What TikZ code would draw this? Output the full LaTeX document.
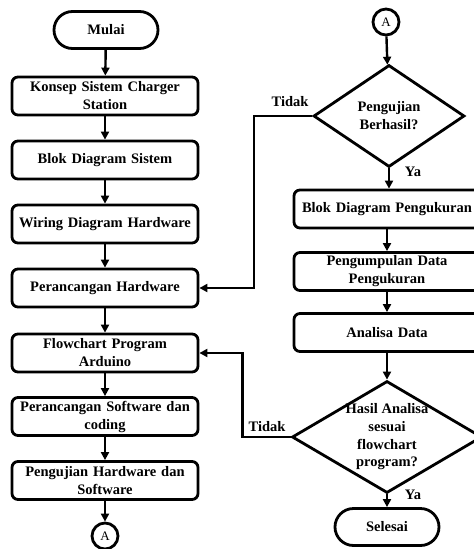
\documentclass[tikz,border=0pt]{standalone}
\usepackage{fontspec}
\setmainfont{Liberation Serif}
\usetikzlibrary{shapes.geometric,shapes.misc,arrows.meta}
\begin{document}
\begin{tikzpicture}[x=1pt,y=-1pt,
  every node/.style={font=\fontsize{14.5}{18}\selectfont\bfseries},
  procbox/.style={draw, line width=2.8pt, rectangle, rounded corners=6pt, minimum width=186pt, minimum height=38pt, text width=182pt, align=center, inner sep=0pt},
  termbox/.style={draw, line width=2.8pt, rounded rectangle, minimum width=104pt, minimum height=37pt, inner sep=0pt},
  conn/.style={draw, line width=2.8pt, shape=circle, minimum size=26pt, inner sep=0pt, font=\fontsize{13}{15}\selectfont},
  dia/.style={draw, line width=2.8pt, diamond, inner sep=0pt},
  dtext/.style={align=center, inner sep=0pt},
  lbl/.style={inner sep=0pt},
  arr/.style={line width=2.4pt, -{Triangle[length=8pt,width=8pt]}}
]
\path[use as bounding box] (0,0) rectangle (474,549);
\clip (0,0) rectangle (474,549);
% left column
\node[termbox] (mulai) at (106,30) {Mulai};
\node[procbox] (b1) at (105,96) {Konsep Sistem Charger\\Station};
\node[procbox] (b2) at (105,160) {Blok Diagram Sistem};
\node[procbox] (b3) at (105,224) {Wiring Diagram Hardware};
\node[procbox] (b4) at (105,288) {Perancangan Hardware};
\node[procbox] (b5) at (105,353) {Flowchart Program\\Arduino};
\node[procbox] (b6) at (105,416.5) {Perancangan Software dan\\coding};
\node[procbox] (b7) at (105,480.5) {Pengujian Hardware dan\\Software};
\node[conn] (a1) at (105,536) {A};
% right column
\node[conn] (a2) at (386,22) {A};
\node[dia, minimum width=151pt, minimum height=102pt] (d1) at (389,116) {};
\node[dtext] (d1t) at (d1.center) {Pengujian\\Berhasil?};
\node[procbox] (r1) at (387,209) {Blok Diagram Pengukuran};
\node[procbox] (r2) at (387,271.5) {Pengumpulan Data\\Pengukuran};
\node[procbox] (r3) at (387,332.5) {Analisa Data};
\node[dia, minimum width=190pt, minimum height=112pt] (d2) at (387,437) {};
\node[dtext, font=\fontsize{14.5}{17.7}\selectfont\bfseries] (d2t) at (d2.center) {Hasil Analisa\\sesuai\\flowchart\\program?};
\node[termbox] (selesai) at (387,527) {Selesai};
% labels
\node[lbl] (t1) at (290,102) {Tidak};
\node[lbl] (y1) at (413,172) {Ya};
\node[lbl] (t2) at (267,427) {Tidak};
\node[lbl] (y2) at (413,495) {Ya};
% connectors
\draw[arr] (mulai) -- (b1);
\draw[arr] (b1) -- (b2);
\draw[arr] (b2) -- (b3);
\draw[arr] (b3) -- (b4);
\draw[arr] (b4) -- (b5);
\draw[arr] (b5) -- (b6);
\draw[arr] (b6) -- (b7);
\draw[arr] (b7) -- (a1);
\draw[arr] (a2) -- (d1);
\draw[arr] (d1.south) -- (r1.north -| d1.south);
\draw[arr] (r1) -- (r2);
\draw[arr] (r2) -- (r3);
\draw[arr] (r3) -- (d2);
\draw[arr] (d2) -- (selesai);
\draw[arr] (d1.west) -- ++(-58,0) |- (b4.east);
\draw[arr] (d2.west) -- ++(-48,0) |- (b5.east);
\end{tikzpicture}
\end{document}
